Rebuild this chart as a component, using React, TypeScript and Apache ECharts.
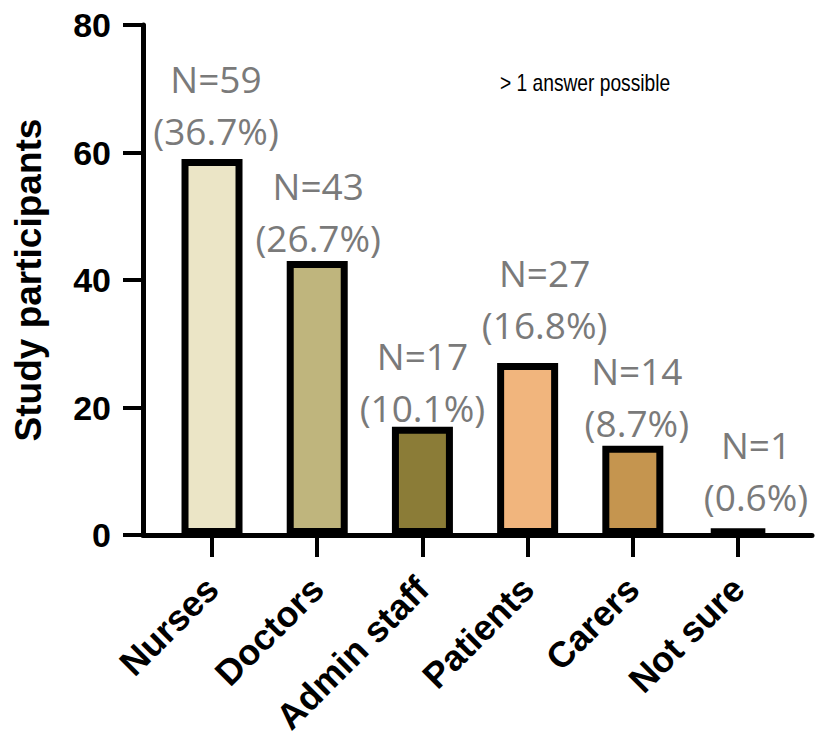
import React, { useEffect, useRef } from "react";
import * as echarts from "echarts";

// Respondent groups and their counts
const categories = ["Nurses", "Doctors", "Admin staff", "Patients", "Carers", "Not sure"];
const counts = [59, 43, 17, 27, 14, 1];
const percents = [36.7, 26.7, 10.1, 16.8, 8.7, 0.6];
const barColors = ["#EBE5C6", "#BFB57D", "#8B7C37", "#F1B57D", "#C5954F", "#222222"];

// Axis settings
const yTicks = [0, 20, 40, 60, 80];
const note = "> 1 answer possible";

// Small per-bar nudges of the value labels [dx, dy]
const labelNudge: [number, number][] = [
  [4, -2],
  [1, 3],
  [0, 7],
  [17, -12],
  [4, 3],
  [18, -6],
];

export default function App() {
  const ref = useRef<HTMLDivElement>(null);

  useEffect(() => {
    if (!ref.current) return;
    const chart = echarts.init(ref.current, undefined, { renderer: "svg" });
    const idx = categories.map((_, i) => i);

    chart.setOption({
      animation: false,
      backgroundColor: "#ffffff",
      grid: {
        left: 143,
        right: 15,
        top: 25,
        bottom: 211,
        containLabel: false,
        outerBoundsMode: "none",
      },
      xAxis: {
        type: "value",
        min: -0.656,
        max: 5.703,
        splitLine: { show: false },
        axisLine: { show: true, onZero: false, lineStyle: { color: "#000", width: 5 } },
        axisTick: {
          show: true,
          customValues: idx,
          length: 22,
          lineStyle: { color: "#000", width: 4 },
        },
        axisLabel: {
          customValues: idx,
          rotate: 45,
          margin: 48,
          fontFamily: "'Liberation Sans', Arial, sans-serif",
          fontWeight: "bold",
          fontSize: 36,
          color: "#000",
          formatter: (v: number) => categories[Math.round(v)] ?? "",
        },
      },
      yAxis: {
        type: "value",
        min: yTicks[0],
        max: yTicks[yTicks.length - 1],
        interval: 20,
        name: "Study participants",
        nameLocation: "middle",
        nameGap: 96,
        nameTextStyle: {
          fontFamily: "'Liberation Sans', Arial, sans-serif",
          fontWeight: "bold",
          fontSize: 37,
          color: "#000",
        },
        splitLine: { show: false },
        axisLine: { show: true, onZero: false, lineStyle: { color: "#000", width: 5 } },
        axisTick: { show: true, length: 20, lineStyle: { color: "#000", width: 4 } },
        axisLabel: {
          margin: 32,
          fontFamily: "'Liberation Sans', Arial, sans-serif",
          fontWeight: "bold",
          fontSize: 34,
          color: "#000",
        },
      },
      series: [
        {
          type: "bar",
          barWidth: 61,
          data: counts.map((v, i) => ({
            value: [i, v],
            itemStyle: { color: barColors[i], borderColor: "#000", borderWidth: 7 },
            label: { offset: labelNudge[i] },
          })),
          label: {
            show: true,
            position: "top",
            distance: 0,
            fontFamily: "'Open Sans', 'Noto Sans', sans-serif",
            fontSize: 37,
            lineHeight: 52,
            color: "#7A7A7A",
            align: "center",
            formatter: (p: any) =>
              `N=${counts[p.dataIndex]}\n(${percents[p.dataIndex].toFixed(1)}%)`,
          },
        },
      ],
      graphic: [
        {
          type: "text",
          left: 500,
          top: 71,
          scaleX: 0.8,
          style: {
            text: note,
            fontFamily: "'Liberation Sans', Arial, sans-serif",
            fontSize: 24,
            fill: "#000",
          },
        },
      ],
    });

    return () => chart.dispose();
  }, []);

  return (
    <div
      ref={ref}
      style={{ position: "fixed", left: 0, top: 0, width: 827, height: 746 }}
    />
  );
}
